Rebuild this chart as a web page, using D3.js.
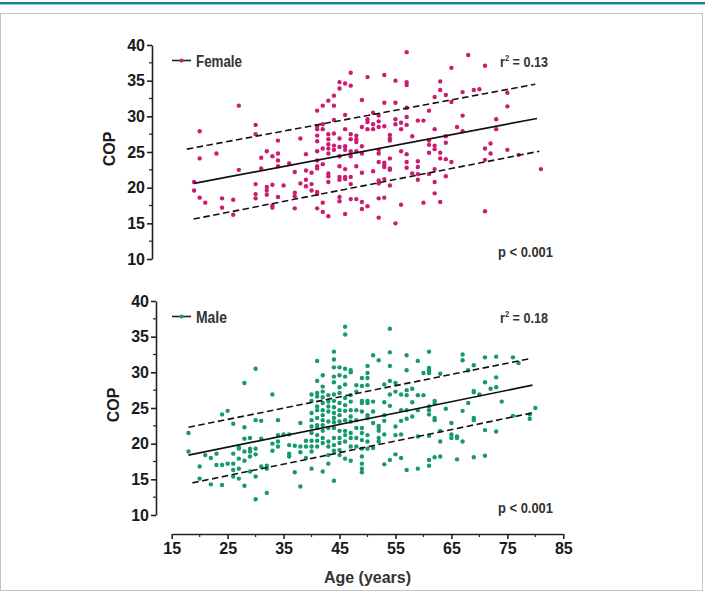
<!DOCTYPE html>
<html>
<head>
<meta charset="utf-8">
<script src="https://cdn.jsdelivr.net/npm/d3@7"></script>
<style>
  body { margin: 0; background: #fff; }
  svg { display: block; }
</style>
</head>
<body>
<svg id="chart" width="705" height="598"></svg>
<script>
// ---- data ----
const yTicks = [10, 15, 20, 25, 30, 35, 40];
const yMinor = [12.5, 17.5, 22.5, 27.5, 32.5, 37.5];
const xTicks = [15, 25, 35, 45, 55, 65, 75, 85];
const xMinor = [20, 30, 40, 50, 60, 70, 80];

// [age, COP]
const femalePoints = [
  [27,31.5],[20,27.9],[30,28.8],[30,27.5],[34,26.6],[20,24.1],[23,24.8],[32,25.1],[31,24.2],[33,24.4],
  [34,24.8],[34,23.8],[34,23.0],[36,23.4],[27,22.5],[31,22.7],[19,20.8],[19,19.6],[20,18.6],[21,17.9],
  [24,18.5],[26,18.3],[24,17.2],[26,16.2],[30,20.5],[32,20.1],[32,19.6],[33,20.4],[32,19.0],[30,19.1],
  [30,18.5],[34,18.7],[33,17.5],[33,17.2],[35,20.3],
  [57,39.0],[47,36.1],[45,34.8],[46,34.6],[47,34.3],[45,33.9],[50,35.5],[53,35.8],[55,35.0],[57,34.8],
  [57,34.4],[44,32.9],[43,32.2],[42,31.5],[44,31.5],[41,30.8],[49,32.3],[53,31.9],[55,31.9],[57,31.2],
  [46,30.2],[51,30.5],[52,30.1],[50,29.6],[50,29.2],[52,29.3],[55,29.6],[55,28.9],[56,29.1],[57,29.9],
  [57,28.8],[59,29.4],[60,29.4],[44,29.5],[42,28.9],[41,28.6],[41,28.2],[42,28.2],[46,28.2],[49,28.5],
  [50,28.2],[51,28.9],[51,28.2],[52,28.5],[53,28.6],[56,28.2],[58,27.2],[38,26.9],[41,27.3],[43,27.5],
  [44,27.6],[41,26.5],[43,26.8],[43,26.1],[45,26.9],[47,27.5],[48,27.3],[47,26.8],[48,26.8],[48,26.4],
  [54,27.4],[54,26.9],[54,26.6],[43,25.5],[44,25.9],[44,25.3],[45,25.7],[46,25.8],[46,25.3],[42,25.5],
  [41,25.1],[39,24.7],[43,24.8],[47,25.1],[49,25.8],[49,24.8],[52,25.3],[52,24.8],[56,25.1],[57,24.7],
  [47,24.4],[45,24.4],[48,25.1],[54,24.1],[52,23.6],[53,23.5],[53,23.2],[53,22.9],[54,22.7],[54,22.5],
  [57,23.6],[59,23.7],[59,22.9],[41,23.8],[41,23.0],[41,22.7],[42,23.3],[37,22.2],[39,22.4],[40,22.1],
  [45,23.0],[46,22.6],[48,23.0],[49,22.1],[51,22.3],[57,22.8],[38,20.6],[39,21.1],[39,20.2],[40,20.5],
  [43,22.0],[43,21.6],[43,20.8],[45,21.5],[45,21.1],[46,21.5],[46,21.2],[47,21.5],[47,20.5],[52,21.0],
  [52,20.6],[53,21.2],[54,20.3],[58,22.0],[59,21.9],[59,21.1],[40,19.6],[41,19.4],[41,19.1],[37,19.3],
  [37,18.8],[45,18.7],[45,18.1],[47,18.4],[48,18.4],[49,18.0],[49,17.0],[50,17.4],[52,18.5],[53,18.6],
  [56,17.6],[60,17.9],[37,17.1],[41,17.1],[42,17.9],[42,16.6],[43,16.0],[46,16.3],[52,15.8],[55,15.0],
  [68,38.6],[65,36.8],[71,37.1],[63,34.9],[63,33.7],[64,33.0],[62,32.7],[65,32.0],[67,33.4],[69,33.7],
  [70,33.8],[75,33.3],[75,31.4],[61,30.8],[67,30.1],[73,29.6],[73,28.2],[62,28.2],[66,28.5],[67,27.9],
  [64,27.2],[61,26.6],[61,26.0],[62,25.9],[62,25.4],[61,24.9],[63,24.9],[64,26.3],[71,25.5],[72,26.2],
  [72,24.8],[63,24.1],[64,24.0],[65,23.6],[71,23.9],[75,25.3],[77,24.6],[62,22.6],[61,21.9],[64,21.6],
  [81,22.6],[62,20.8],[62,19.2],[63,18.0],[71,16.7]
];

const malePoints = [
  [30,30.5],[28,28.5],[33,26.9],[24,24.1],[25,24.6],[26,22.8],[28,22.3],[30,23.3],[31,23.2],[34,23.3],
  [18,21.5],[18,18.9],[28,20.7],[29,20.8],[31,20.7],[33,20.0],[33,19.0],[34,21.2],[34,20.3],[34,19.6],
  [35,21.3],[36,21.3],[36,19.8],[36,18.6],[36,18.2],[37,19.7],[27,19.5],[27,19.3],[27,17.9],[29,19.3],
  [29,18.9],[29,18.2],[30,19.3],[30,18.5],[26,18.6],[28,18.9],[28,17.6],[21,18.4],[22,18.0],[23,18.6],
  [20,16.8],[23,17.0],[24,17.0],[25,17.2],[26,17.2],[31,16.8],[32,16.9],[32,16.5],[26,16.3],[27,16.5],
  [29,16.1],[30,15.4],[26,15.4],[27,15.1],[20,15.1],[22,14.3],[24,14.2],[28,14.1],[37,16.0],[30,12.2],
  [32,13.1],
  [38,22.9],[38,19.6],[38,18.8],[38,14.0],
  [39,20.4],[39,19.6],[39,18.0],
  [40,26.9],[40,26.0],[40,24.3],[40,23.3],[40,22.4],[40,21.5],[40,20.4],[40,19.6],[40,18.9],[40,16.5],
  [41,31.6],[41,28.8],[41,27.1],[41,26.6],[41,25.2],[41,24.7],[41,23.6],[41,22.6],[41,22.2],[41,21.2],[41,20.4],[41,19.6],
  [42,29.6],[42,28.0],[42,27.3],[42,26.5],[42,25.7],[42,24.7],[42,24.0],[42,23.3],[42,22.6],[42,21.8],[42,20.8],[42,20.1],[42,16.1],
  [43,26.8],[43,25.9],[43,25.2],[43,24.5],[43,23.1],[43,22.2],[43,20.3],[43,19.6],[43,18.4],[43,17.2],
  [44,32.9],[44,31.8],[44,30.7],[44,29.4],[44,28.6],[44,26.9],[44,26.0],[44,25.1],[44,24.3],[44,23.6],[44,23.0],[44,22.2],[44,20.8],[44,19.8],[44,19.0],[44,14.8],
  [45,30.7],[45,29.6],[45,27.9],[45,27.1],[45,25.7],[45,24.7],[45,24.0],[45,23.1],[45,21.8],[45,20.8],[45,20.1],[45,19.1],[45,18.4],
  [46,36.4],[46,35.3],[46,30.5],[46,29.4],[46,28.3],[46,26.4],[46,25.4],[46,24.6],[46,23.3],[46,21.8],[46,21.2],[46,20.3],[46,17.9],
  [47,30.3],[47,30.0],[47,26.8],[47,25.9],[47,24.7],[47,23.8],[47,23.1],[47,21.5],[47,20.8],[47,19.6],[47,17.6],
  [48,28.2],[48,27.3],[48,24.7],[48,23.3],[48,22.2],[48,20.8],[48,19.6],
  [49,29.2],[49,28.1],[49,26.0],[49,25.7],[49,24.5],[49,22.2],[49,21.5],[49,20.5],[49,19.3],[49,18.2],[49,17.2],[49,16.5],[49,16.0],
  [50,30.9],[50,29.9],[50,29.2],[50,28.2],[50,26.0],[50,25.7],[50,24.0],[50,23.6],[50,21.2],[50,20.3],[50,19.3],
  [51,32.4],[51,25.9],[51,24.5],[51,22.9],[51,19.4],
  [52,31.7],[52,22.5],[52,22.2],[52,21.8],[52,20.8],[52,20.3],
  [53,28.3],[53,25.8],[53,24.0],[53,23.2],[53,21.3],[53,17.1],
  [54,36.1],[54,32.8],[54,30.9],[54,28.8],[54,26.9],[54,25.3],[54,17.7],
  [55,28.5],[55,27.3],[55,22.4],[55,21.2],[55,18.5],
  [56,26.9],[56,24.7],[56,23.2],[56,21.3],[56,18.0],
  [57,32.4],[57,30.3],[57,27.5],[57,26.8],[57,24.7],[57,23.5],[57,16.3],
  [58,27.7],[58,25.8],[58,23.8],
  [59,31.6],[59,26.8],[59,24.7],[59,21.0],[59,16.5],
  [60,29.9],[60,26.8],
  [61,32.9],[61,30.6],[61,30.3],[61,29.9],[61,25.2],[61,24.7],[61,24.1],[62,26.0],[62,25.7],[62,23.6],
  [62,23.3],[63,29.8],[63,20.3],[63,18.2],[62,18.1],[61,17.7],[61,16.9],[61,21.1],[64,24.9],[65,22.9],
  [65,21.3],[65,20.8],[63,21.8],[66,21.0],[66,20.8],[67,20.3],[66,17.8],[67,24.6],[67,32.5],[67,31.7],
  [68,25.7],[68,30.3],[69,31.0],[69,27.4],[69,27.2],[69,23.6],[69,23.3],[69,18.1],[70,26.9],[71,28.6],
  [71,32.1],[71,21.9],[71,18.3],[72,27.7],[73,32.2],[73,29.3],[73,27.9],[73,21.7],[74,25.9],[76,32.1],
  [76,23.9],[77,31.3],[79,24.1],[79,23.5],[80,25.0]
];

// regression line and dashed band ends: [age, COP]
const femaleFit   = [[19.0, 20.6], [80.3, 29.7]];
const femaleUpper = [[17.7, 25.4], [80.0, 34.5]];
const femaleLower = [[18.9, 15.6], [80.7, 25.1]];
const maleFit     = [[18.0, 18.4], [79.5, 28.2]];
const maleUpper   = [[18.0, 22.3], [78.9, 31.9]];
const maleLower   = [[18.7, 14.5], [79.4, 24.3]];

const panelNames = ["Female", "Male"];
const r2Values = ["0.13", "0.18"];
const pLabel = "p < 0.001";

// ---- drawing ----
const svg = d3.select("#chart");
const axisFont = "'Liberation Sans', Arial, Helvetica, sans-serif";
const narrowFont = "'Liberation Sans Narrow', 'Liberation Sans', Arial, sans-serif";

// page decoration: header rule and frame
svg.append("rect").attr("x", 0).attr("y", 2).attr("width", 705).attr("height", 2).attr("fill", "#1d7796");
svg.append("rect").attr("x", 0).attr("y", 4).attr("width", 705).attr("height", 1).attr("fill", "#9ccfe0");
svg.append("rect").attr("x", 0.5).attr("y", 13.5).attr("width", 702).attr("height", 577)
  .attr("fill", "none").attr("stroke", "#c4c4c4");

const x = d3.scaleLinear().domain([15, 85]).range([171.7, 563.3]);

const panels = [
  { name: panelNames[0], pts: femalePoints, fit: femaleFit, up: femaleUpper, lo: femaleLower,
    color: "#cc1b72", top: 45, bottom: 259, axisX: 152, r2: r2Values[0] },
  { name: panelNames[1], pts: malePoints, fit: maleFit, up: maleUpper, lo: maleLower,
    color: "#169a6a", top: 301, bottom: 515, axisX: 156, r2: r2Values[1] }
];

const line = (y) => d3.line().x(d => x(d[0])).y(d => y(d[1]));

panels.forEach(p => {
  const y = d3.scaleLinear().domain([10, 40]).range([p.bottom, p.top]);
  const g = svg.append("g");

  // y axis
  const yAxis = g.append("g")
    .attr("transform", `translate(${p.axisX},0)`)
    .call(d3.axisLeft(y).tickValues(yTicks).tickSize(5).tickSizeOuter(0).tickPadding(2));
  yAxis.select(".domain").attr("stroke", "#222").attr("stroke-width", 1.6);
  yAxis.selectAll(".tick line").attr("stroke", "#222").attr("stroke-width", 1.6);
  yAxis.selectAll(".tick text").attr("font-family", axisFont).attr("font-weight", "bold")
    .attr("font-size", 16).attr("fill", "#1a1a1a");
  g.append("g").selectAll("line").data(yMinor).join("line")
    .attr("x1", p.axisX - 3).attr("x2", p.axisX)
    .attr("y1", d => y(d)).attr("y2", d => y(d))
    .attr("stroke", "#222").attr("stroke-width", 1.2);

  // y title
  g.append("text")
    .attr("transform", `translate(${p.axisX - 37},${(p.top + p.bottom) / 2 - 3}) rotate(-90)`)
    .attr("text-anchor", "middle")
    .attr("font-family", axisFont).attr("font-weight", "bold").attr("font-size", 16)
    .attr("fill", "#1a1a1a")
    .text("COP");

  // points
  g.append("g").selectAll("circle").data(p.pts).join("circle")
    .attr("cx", d => x(d[0])).attr("cy", d => y(d[1]))
    .attr("r", 2.2).attr("fill", p.color);

  // fit and band
  g.append("path").datum(p.fit).attr("d", line(y))
    .attr("fill", "none").attr("stroke", "#111").attr("stroke-width", 1.7);
  [p.up, p.lo].forEach(b => {
    g.append("path").datum(b).attr("d", line(y))
      .attr("fill", "none").attr("stroke", "#111").attr("stroke-width", 1.6)
      .attr("stroke-dasharray", "6.5,3.5");
  });

  // legend
  const ly = p.top + 15.5;
  g.append("line").attr("x1", 172).attr("x2", 191).attr("y1", ly).attr("y2", ly)
    .attr("stroke", "#222").attr("stroke-width", 1.6);
  g.append("circle").attr("cx", 181.5).attr("cy", ly).attr("r", 2).attr("fill", p.color);
  g.append("text").attr("x", 196).attr("y", ly + 6)
    .attr("font-family", narrowFont).attr("font-weight", "bold").attr("font-size", 16)
    .attr("fill", "#333")
    .attr("textLength", p.name === "Female" ? 46 : 31).attr("lengthAdjust", "spacingAndGlyphs")
    .text(p.name);

  // r2 and p annotations
  const rt = g.append("text").attr("x", 500).attr("y", p.top + 21.5)
    .attr("font-family", narrowFont).attr("font-weight", "bold").attr("font-size", 15)
    .attr("fill", "#333").attr("textLength", 48).attr("lengthAdjust", "spacingAndGlyphs");
  rt.append("tspan").text("r");
  rt.append("tspan").attr("font-size", 9).attr("dy", -6).text("2");
  rt.append("tspan").attr("dy", 6).text(" = " + p.r2);

  g.append("text").attr("x", 498).attr("y", p.bottom - 2.5)
    .attr("font-family", narrowFont).attr("font-weight", "bold").attr("font-size", 15)
    .attr("fill", "#333").attr("textLength", 55).attr("lengthAdjust", "spacingAndGlyphs")
    .text(pLabel);
});

// x axis (bottom panel only)
const xAxisY = 534;
const xAxis = svg.append("g")
  .attr("transform", `translate(0,${xAxisY})`)
  .call(d3.axisBottom(x).tickValues(xTicks).tickSize(5).tickSizeOuter(0).tickPadding(4));
xAxis.select(".domain").attr("stroke", "#222").attr("stroke-width", 1.6);
xAxis.selectAll(".tick line").attr("stroke", "#222").attr("stroke-width", 1.6);
xAxis.selectAll(".tick text").attr("font-family", axisFont).attr("font-weight", "bold")
  .attr("font-size", 16).attr("fill", "#1a1a1a");
svg.append("g").selectAll("line").data(xMinor).join("line")
  .attr("x1", d => x(d)).attr("x2", d => x(d))
  .attr("y1", xAxisY).attr("y2", xAxisY + 3)
  .attr("stroke", "#222").attr("stroke-width", 1.2);

svg.append("text")
  .attr("x", (x(15) + x(85)) / 2).attr("y", 583)
  .attr("text-anchor", "middle")
  .attr("font-family", axisFont).attr("font-weight", "bold").attr("font-size", 16)
  .attr("fill", "#333")
  .text("Age (years)");
</script>
</body>
</html>
